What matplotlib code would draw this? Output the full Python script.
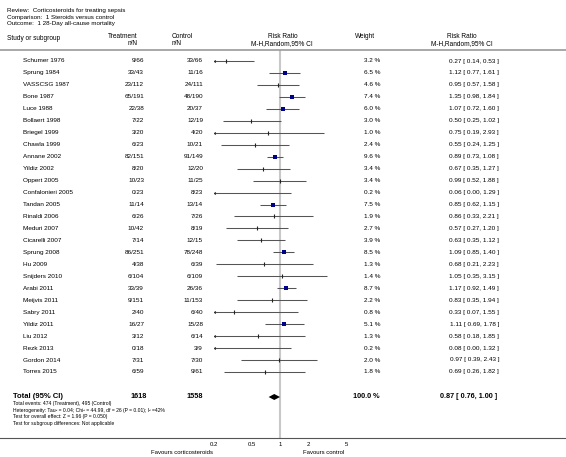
import numpy as np
import matplotlib
matplotlib.use("Agg")
import matplotlib.pyplot as plt
import matplotlib.transforms as mtransforms
from matplotlib.lines import Line2D

plt.rcParams['font.family'] = ['Liberation Sans', 'DejaVu Sans']

# data
studies = ["Schumer 1976", "Sprung 1984", "VASSCSG 1987", "Bone 1987", "Luce 1988",
           "Bollaert 1998", "Briegel 1999", "Chawla 1999", "Annane 2002", "Yildiz 2002",
           "Oppert 2005", "Confalonieri 2005", "Tandan 2005", "Rinaldi 2006", "Meduri 2007",
           "Cicarelli 2007", "Sprung 2008", "Hu 2009", "Snijders 2010", "Arabi 2011",
           "Meijvis 2011", "Sabry 2011", "Yildiz 2011", "Liu 2012", "Rezk 2013",
           "Gordon 2014", "Torres 2015"]
treatment = ["9/66", "33/43", "23/112", "65/191", "22/38", "7/22", "3/20", "6/23", "82/151",
             "8/20", "10/23", "0/23", "11/14", "6/26", "10/42", "7/14", "86/251", "4/38",
             "6/104", "33/39", "9/151", "2/40", "16/27", "3/12", "0/18", "7/31", "6/59"]
control = ["33/66", "11/16", "24/111", "48/190", "20/37", "12/19", "4/20", "10/21", "91/149",
           "12/20", "11/25", "8/23", "13/14", "7/26", "8/19", "12/15", "78/248", "6/39",
           "6/109", "26/36", "11/153", "6/40", "15/28", "6/14", "3/9", "7/30", "9/61"]
weights = [3.2, 6.5, 4.6, 7.4, 6.0, 3.0, 1.0, 2.4, 9.6, 3.4, 3.4, 0.2, 7.5, 1.9, 2.7,
           3.9, 8.5, 1.3, 1.4, 8.7, 2.2, 0.8, 5.1, 1.3, 0.2, 2.0, 1.8]
rr = [0.27, 1.12, 0.95, 1.35, 1.07, 0.50, 0.75, 0.55, 0.89, 0.67, 0.99, 0.06, 0.85, 0.86,
      0.57, 0.63, 1.09, 0.68, 1.05, 1.17, 0.83, 0.33, 1.11, 0.58, 0.08, 0.97, 0.69]
lower = [0.14, 0.77, 0.57, 0.98, 0.72, 0.25, 0.19, 0.24, 0.73, 0.35, 0.52, 0.00, 0.62, 0.33,
         0.27, 0.35, 0.85, 0.21, 0.35, 0.92, 0.35, 0.07, 0.69, 0.18, 0.00, 0.39, 0.26]
upper = [0.53, 1.61, 1.58, 1.84, 1.60, 1.02, 2.93, 1.25, 1.08, 1.27, 1.88, 1.29, 1.15, 2.21,
         1.20, 1.12, 1.40, 2.23, 3.15, 1.49, 1.94, 1.55, 1.78, 1.85, 1.32, 2.43, 1.82]
total_treat, total_ctrl = "1618", "1558"
total_rr, total_lo, total_hi = 0.87, 0.76, 1.00
ticks = [0.2, 0.5, 1, 2, 5]
tick_labels = ["0.2", "0.5", "1", "2", "5"]
footer = ["Total events: 474 (Treatment), 495 (Control)",
          "Heterogeneity: Tau\u00b2 = 0.04; Chi\u00b2 = 44.99, df = 26 (P = 0.01); I\u00b2 =42%",
          "Test for overall effect: Z = 1.96 (P = 0.050)",
          "Test for subgroup differences: Not applicable"]

W, H = 566, 457
fig = plt.figure(figsize=(W / 100, H / 100), dpi=100)
fig.patch.set_facecolor('white')

def fx(x):
    return x / W

def fy(y):
    return 1 - y / H

# forest axes: x 0.2..5 spans pixels 213.6..346.4, rows every ~11.96 px starting at y=61
row0, step = 61.0, 11.96
top_px, bot_px = 50.0, 438.0
ax = fig.add_axes([fx(213.6), fy(bot_px), (346.4 - 213.6) / W, (bot_px - top_px) / H])
ax.set_xscale('log')
ax.set_xlim(0.2, 5)
ax.set_ylim((bot_px - row0) / step, (top_px - row0) / step)
ax.set_facecolor('none')
for s in ax.spines.values():
    s.set_visible(False)
ax.set_yticks([])
ax.set_xticks(ticks)
ax.set_xticklabels(tick_labels, fontsize=4.3)
ax.xaxis.set_minor_locator(matplotlib.ticker.NullLocator())
ax.tick_params(axis='x', length=0, pad=3.0)

ax.axvline(1, color='#c8c8c8', lw=1.5, zorder=0)

xmin, xmax = 0.2, 5
ys = np.arange(len(studies))
for i in ys:
    lo = max(lower[i], xmin)
    hi = min(upper[i], xmax)
    ax.plot([lo, hi], [i, i], color='#555555', lw=0.75, zorder=2, solid_capstyle='butt')
    if lower[i] < xmin:
        ax.plot(xmin * 1.02, i, marker='<', markersize=2.2, color='#333333',
                markeredgewidth=0, zorder=3)
    if xmin <= rr[i] <= xmax:
        if weights[i] >= 5:
            side = 1.55 * np.sqrt(weights[i]) * 0.72
            ax.plot(rr[i], i, marker='s', markersize=side, color='#00008b',
                    markeredgewidth=0, zorder=4)
        else:
            ax.plot(rr[i], i, marker='|', markersize=3.0, color='#222222',
                    markeredgewidth=0.8, zorder=4)

# total diamond
ytot = (397.0 - row0) / step
dh = 3.0 / step
ax.fill([total_lo, total_rr, total_hi, total_rr], [ytot, ytot - dh, ytot, ytot + dh],
        color='black', lw=0, zorder=4)

# text columns tied to the rows
tr = mtransforms.blended_transform_factory(fig.transFigure, ax.transData)
fs = 4.6
rr_text = ["%.2f [ %.2f, %.2f ]" % (rr[i], lower[i], upper[i]) for i in ys]
for i in ys:
    ax.text(fx(23), i, studies[i], transform=tr, ha='left', va='center', fontsize=fs, clip_on=False)
    ax.text(fx(144), i, treatment[i], transform=tr, ha='right', va='center', fontsize=fs, clip_on=False)
    ax.text(fx(203), i, control[i], transform=tr, ha='right', va='center', fontsize=fs, clip_on=False)
    ax.text(fx(380), i, "%.1f %%" % weights[i], transform=tr, ha='right', va='center',
            fontsize=fs, clip_on=False)
    ax.text(fx(499), i, rr_text[i], transform=tr, ha='right', va='center', fontsize=fs, clip_on=False)

ax.text(fx(13), ytot, "Total (95% CI)", transform=tr, ha='left', va='center', fontsize=5.5,
        fontweight='bold', clip_on=False)
ax.text(fx(147), ytot, total_treat, transform=tr, ha='right', va='center', fontsize=5.2,
        fontweight='bold', clip_on=False)
ax.text(fx(203), ytot, total_ctrl, transform=tr, ha='right', va='center', fontsize=5.2,
        fontweight='bold', clip_on=False)
ax.text(fx(380), ytot, "100.0 %", transform=tr, ha='right', va='center', fontsize=5.2,
        fontweight='bold', clip_on=False)
ax.text(fx(497), ytot, "%.2f [ %.2f, %.2f ]" % (total_rr, total_lo, total_hi), transform=tr,
        ha='right', va='center', fontsize=5.2, fontweight='bold', clip_on=False)

for k, line in enumerate(footer):
    fig.text(fx(13), fy(403.5 + 6.6 * k), line, ha='left', va='center', fontsize=3.6)

# header block
fig.text(fx(7), fy(10.5), "Review:  Corticosteroids for treating sepsis", fontsize=4.5, va='center')
fig.text(fx(7), fy(17), "Comparison:  1 Steroids versus control", fontsize=4.5, va='center')
fig.text(fx(7), fy(23.5), "Outcome:  1 28-Day all-cause mortality", fontsize=4.5, va='center')

hfs = 4.7
fig.text(fx(7), fy(38), "Study or subgroup", fontsize=hfs, va='center')
fig.text(fx(138), fy(37), "Treatment", fontsize=hfs, va='center', ha='right')
fig.text(fx(138), fy(43.5), "n/N", fontsize=hfs, va='center', ha='right')
fig.text(fx(172), fy(37), "Control", fontsize=hfs, va='center', ha='left')
fig.text(fx(172), fy(43.5), "n/N", fontsize=hfs, va='center', ha='left')
fig.text(fx(283), fy(37), "Risk Ratio", fontsize=hfs, va='center', ha='center')
fig.text(fx(282), fy(43.5), "M-H,Random,95% CI", fontsize=hfs, va='center', ha='center')
fig.text(fx(355), fy(37), "Weight", fontsize=hfs, va='center', ha='left')
fig.text(fx(462), fy(37), "Risk Ratio", fontsize=hfs, va='center', ha='center')
fig.text(fx(462), fy(43.5), "M-H,Random,95% CI", fontsize=hfs, va='center', ha='center')

# full-width rules
fig.add_artist(Line2D([0, 1], [fy(50), fy(50)], color='#9a9a9a', lw=1.2))
fig.add_artist(Line2D([0, 1], [fy(bot_px), fy(bot_px)], color='#555555', lw=0.8))

fig.text(fx(213), fy(452), "Favours corticosteroids", fontsize=4.3, va='center', ha='right')
fig.text(fx(303), fy(452), "Favours control", fontsize=4.3, va='center', ha='left')

fig.savefig('out.png', dpi=100, facecolor='white')
